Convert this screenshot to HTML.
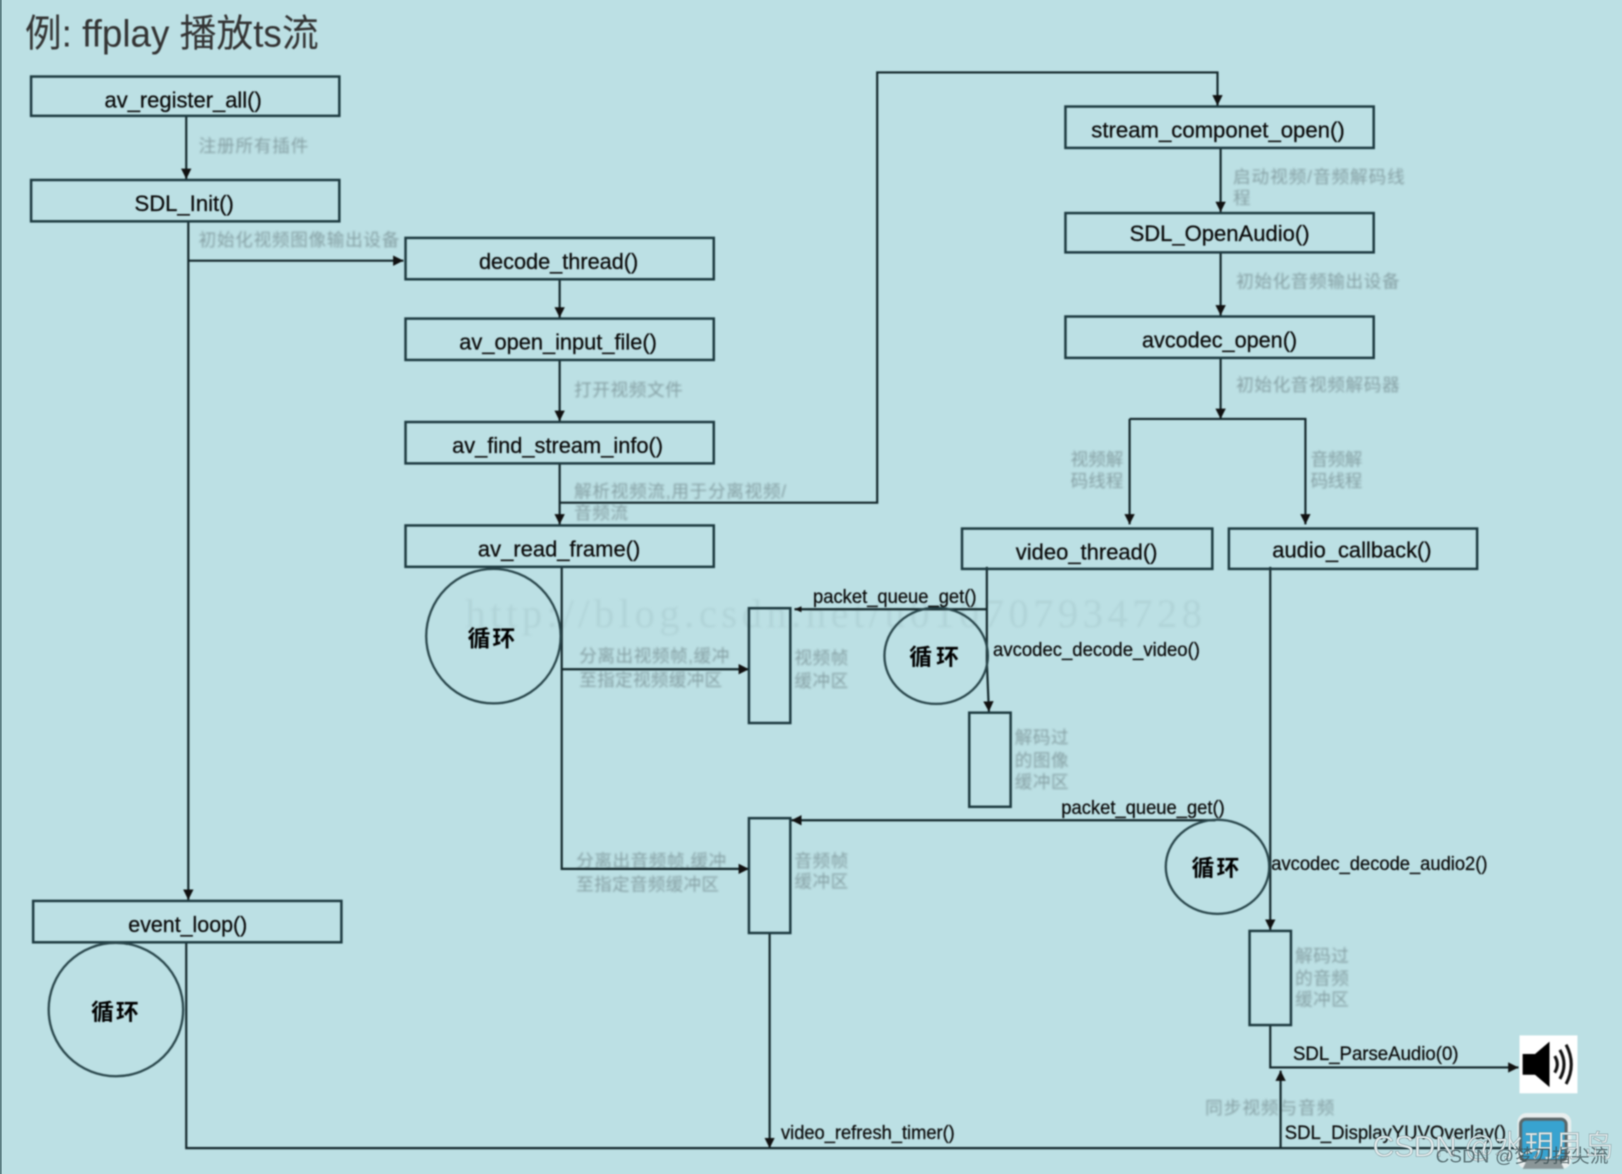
<!DOCTYPE html>
<html><head><meta charset="utf-8"><style>
html,body{margin:0;padding:0;background:#bce0e4;width:1622px;height:1174px;overflow:hidden}
svg{display:block}
.main{filter:blur(.8px)}
.soft{filter:blur(1.1px)}
text{font-family:"Liberation Sans","Noto Sans CJK SC",sans-serif}
.b{font-size:21px;fill:#0a0a0a;stroke:#0a0a0a;stroke-width:.25}
.g{font-size:17px;fill:#86a0a4}
.c{font-size:22px;font-weight:bold;fill:#000}
.r{fill:none;stroke:#1d3a40;stroke-width:2.4}
.l{fill:none;stroke:#14282c;stroke-width:2.1}
.e{fill:none;stroke:#2a474c;stroke-width:2.2}
</style></head><body>
<svg width="1622" height="1174" viewBox="0 0 1568 1135" xmlns="http://www.w3.org/2000/svg">
<defs>
<marker id="a" markerWidth="12" markerHeight="12" refX="10" refY="5" orient="auto" markerUnits="userSpaceOnUse"><path d="M0,0L10,5L0,10z" fill="#111"/></marker>
<marker id="s" markerWidth="8" markerHeight="8" refX="7" refY="3" orient="auto" markerUnits="userSpaceOnUse"><path d="M0,0L7,3L0,6z" fill="#111"/></marker>
</defs>
<rect width="1568" height="1135" fill="#bce0e4"/>
<rect x="0" y="0" width="1.5" height="1135" fill="#55777c"/>

<g class="soft">
<text x="450" y="606" font-size="39" textLength="712" lengthAdjust="spacing" style="font-family:'Liberation Serif',serif" fill="#b1d4d8">http://blog.csdn.net/u010707934728</text>
<g class="g">
<text x="192" y="147" textLength="106">注册所有插件</text>
<text x="192" y="238" textLength="194">初始化视频图像输出设备</text>
<text x="555" y="383" textLength="105">打开视频文件</text>
<text x="555" y="481" textLength="205">解析视频流,用于分离视频/</text>
<text x="555" y="502" textLength="52">音频流</text>
<text x="1192" y="177" textLength="166">启动视频/音频解码线</text>
<text x="1192" y="197">程</text>
<text x="1195" y="278" textLength="158">初始化音频输出设备</text>
<text x="1195" y="378" textLength="158">初始化音视频解码器</text>
<text x="1035" y="450" textLength="51">视频解</text>
<text x="1035" y="471" textLength="51">码线程</text>
<text x="1267" y="450" textLength="50">音频解</text>
<text x="1267" y="471" textLength="50">码线程</text>
<text x="560" y="640" textLength="145">分离出视频帧,缓冲</text>
<text x="560" y="663" textLength="138">至指定视频缓冲区</text>
<text x="768" y="642" textLength="52">视频帧</text>
<text x="768" y="664" textLength="52">缓冲区</text>
<text x="557" y="838" textLength="145">分离出音频帧,缓冲</text>
<text x="557" y="861" textLength="138">至指定音频缓冲区</text>
<text x="768" y="838" textLength="52">音频帧</text>
<text x="768" y="858" textLength="52">缓冲区</text>
<text x="981" y="719" textLength="52">解码过</text>
<text x="981" y="741" textLength="52">的图像</text>
<text x="981" y="762" textLength="52">缓冲区</text>
<text x="1252" y="930" textLength="52">解码过</text>
<text x="1252" y="952" textLength="52">的音频</text>
<text x="1252" y="972" textLength="52">缓冲区</text>
<text x="1165" y="1077" textLength="125">同步视频与音频</text>
</g>
</g>

<g class="main">
<g class="l">
<path d="M180,112V173" marker-end="url(#a)"/>
<path d="M182,214V870" marker-end="url(#a)"/>
<path d="M182,252H390" marker-end="url(#a)"/>
<path d="M541,270V307" marker-end="url(#a)"/>
<path d="M541,348V407" marker-end="url(#a)"/>
<path d="M541,448V507" marker-end="url(#a)"/>
<path d="M541,486H848V70H1177V102" marker-end="url(#a)"/>
<path d="M1180,143V205" marker-end="url(#a)"/>
<path d="M1180,244V305" marker-end="url(#a)"/>
<path d="M1180,346V405" marker-end="url(#a)"/>
<path d="M1092,405H1263"/>
<path d="M1092,405V507" marker-end="url(#a)"/>
<path d="M1262,405V507" marker-end="url(#a)"/>
<path d="M543,548V840H724" marker-end="url(#a)"/>
<path d="M543,647H724" marker-end="url(#a)"/>
<path d="M954,589H768" marker-end="url(#s)"/>
<path d="M954,548V640L956,688" marker-end="url(#a)"/>
<path d="M1228,548V899" marker-end="url(#a)"/>
<path d="M1228,991V1032H1468" marker-end="url(#a)"/>
<path d="M1175,793H765" marker-end="url(#a)"/>
<path d="M744,902V1110" marker-end="url(#a)"/>
<path d="M180,911V1110H1480"/>
<path d="M1238,1110V1035" marker-end="url(#a)"/>
</g>

<g class="r">
<rect x="30" y="74" width="298" height="38"/>
<rect x="30" y="174" width="298" height="40"/>
<rect x="392" y="230" width="298" height="40"/>
<rect x="392" y="308" width="298" height="40"/>
<rect x="392" y="408" width="298" height="40"/>
<rect x="392" y="508" width="298" height="40"/>
<rect x="1030" y="103" width="298" height="40"/>
<rect x="1030" y="206" width="298" height="38"/>
<rect x="1030" y="306" width="298" height="40"/>
<rect x="930" y="511" width="242" height="39"/>
<rect x="1188" y="511" width="240" height="39"/>
<rect x="32" y="871" width="298" height="40"/>
<rect x="724" y="588" width="40" height="111"/>
<rect x="724" y="791" width="40" height="111"/>
<rect x="937" y="689" width="40" height="91"/>
<rect x="1208" y="900" width="40" height="91"/>
</g>
<g class="e">
<ellipse cx="477" cy="615" rx="65" ry="65"/>
<ellipse cx="905" cy="634" rx="50" ry="46.5"/>
<ellipse cx="1177" cy="838" rx="50" ry="45.5"/>
<ellipse cx="112" cy="976" rx="65" ry="64.5"/>
</g>

<text x="24" y="45" font-size="37" fill="#333" textLength="284" lengthAdjust="spacingAndGlyphs">例: ffplay 播放ts流</text>

<g class="b">
<text x="101" y="104" textLength="152" lengthAdjust="spacingAndGlyphs">av_register_all()</text>
<text x="130" y="204" textLength="96" lengthAdjust="spacingAndGlyphs">SDL_Init()</text>
<text x="463" y="260" textLength="154" lengthAdjust="spacingAndGlyphs">decode_thread()</text>
<text x="444" y="338" textLength="191" lengthAdjust="spacingAndGlyphs">av_open_input_file()</text>
<text x="437" y="438" textLength="204" lengthAdjust="spacingAndGlyphs">av_find_stream_info()</text>
<text x="462" y="538" textLength="157" lengthAdjust="spacingAndGlyphs">av_read_frame()</text>
<text x="1055" y="133" textLength="245" lengthAdjust="spacingAndGlyphs">stream_componet_open()</text>
<text x="1092" y="233" textLength="174" lengthAdjust="spacingAndGlyphs">SDL_OpenAudio()</text>
<text x="1104" y="336" textLength="150" lengthAdjust="spacingAndGlyphs">avcodec_open()</text>
<text x="982" y="541" textLength="137" lengthAdjust="spacingAndGlyphs">video_thread()</text>
<text x="1230" y="539" textLength="154" lengthAdjust="spacingAndGlyphs">audio_callback()</text>
<text x="124" y="901" textLength="115" lengthAdjust="spacingAndGlyphs">event_loop()</text>
<text x="786" y="583" style="font-size:19px" textLength="158" lengthAdjust="spacingAndGlyphs">packet_queue_get()</text>
<text x="960" y="634" style="font-size:19px" textLength="200" lengthAdjust="spacingAndGlyphs">avcodec_decode_video()</text>
<text x="1026" y="787" style="font-size:19px" textLength="158" lengthAdjust="spacingAndGlyphs">packet_queue_get()</text>
<text x="1229" y="841" style="font-size:19px" textLength="209" lengthAdjust="spacingAndGlyphs">avcodec_decode_audio2()</text>
<text x="1250" y="1025" style="font-size:19px" textLength="160" lengthAdjust="spacingAndGlyphs">SDL_ParseAudio(0)</text>
<text x="755" y="1101" style="font-size:19px" textLength="168" lengthAdjust="spacingAndGlyphs">video_refresh_timer()</text>
<text x="1242" y="1101" style="font-size:19px" textLength="214" lengthAdjust="spacingAndGlyphs">SDL_DisplayYUVOverlay()</text>
</g>

<g class="c">
<text x="452" y="625" textLength="46">循环</text>
<text x="879" y="643" textLength="48">循环</text>
<text x="1152" y="847" textLength="46">循环</text>
<text x="88" y="986" textLength="46">循环</text>
</g>

<!-- speaker -->
<rect x="1469" y="1001" width="56" height="56" fill="#fff"/>
<path d="M1472,1019H1484L1498,1007V1051L1484,1039H1472Z" fill="#000"/>
<g fill="none" stroke="#111" stroke-width="3">
<path d="M1503,1021Q1508,1029 1503,1037"/>
<path d="M1508,1015Q1516,1029 1508,1043"/>
<path d="M1514,1010Q1524,1029 1514,1048"/>
</g>
<!-- monitor -->
<rect x="1467" y="1076" width="52" height="54" rx="9" fill="#e8eeee"/>
<rect x="1470" y="1082" width="44" height="40" rx="5" fill="#38a3d0" stroke="#5a6668" stroke-width="3"/>
<path d="M1476,1122H1508L1512,1130H1472Z" fill="#8a9698"/>
</g>

<g style="filter:blur(.4px)">
<text x="1327" y="1118" font-size="29" fill="#dfe8ea" stroke="#87a0a4" stroke-width=".5" textLength="233">CSDN @水玥月岛</text>
<text x="1388" y="1124" font-size="18" fill="#3d5054" fill-opacity=".75" textLength="167">CSDN @梦刃指尖流</text>
</g>
</svg>
</body></html>
